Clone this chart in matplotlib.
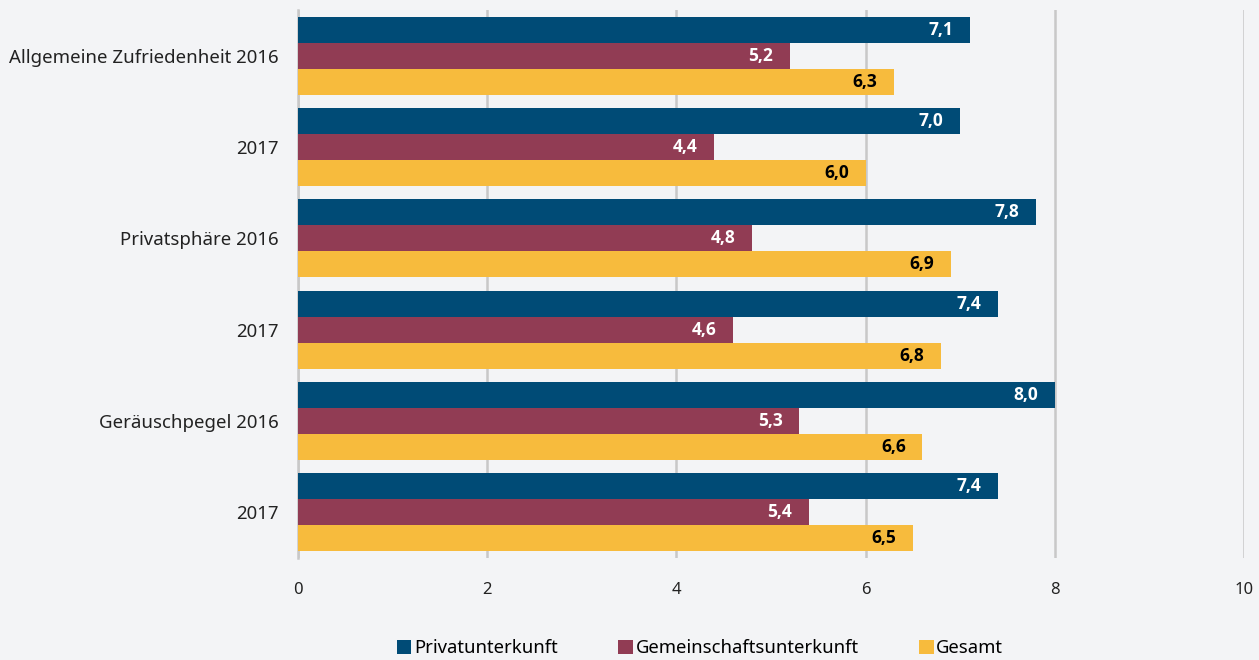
import matplotlib
matplotlib.use("Agg")
import matplotlib.pyplot as plt
import numpy as np

categories = ["Allgemeine Zufriedenheit 2016", "2017", "Privatsphäre 2016", "2017",
              "Geräuschpegel 2016", "2017"]
series_names = ["Privatunterkunft", "Gemeinschaftsunterkunft", "Gesamt"]
privat = [7.1, 7.0, 7.8, 7.4, 8.0, 7.4]
gemeinschaft = [5.2, 4.4, 4.8, 4.6, 5.3, 5.4]
gesamt = [6.3, 6.0, 6.9, 6.8, 6.6, 6.5]
xticks = [0, 2, 4, 6, 8, 10]

colors = ["#004b76", "#913c54", "#f7bb3d"]
text_colors = ["white", "white", "black"]
bg = "#f3f4f6"
font = "Noto Sans"
plt.rcParams["font.family"] = [font, "DejaVu Sans"]

fig = plt.figure(figsize=(12.59, 6.6), dpi=100, facecolor=bg)
ax = fig.add_axes([298/1259, 1-558/660, (1244-298)/1259, 548/660], facecolor=bg)

h = 0.284
y = np.arange(len(categories))
for k, (vals, c, tc, name) in enumerate(zip([privat, gemeinschaft, gesamt], colors, text_colors, series_names)):
    pos = y + (k - 1) * h
    bars = ax.barh(pos, vals, height=h, color=c, label=name, zorder=3)
    for b, v in zip(bars, vals):
        ax.annotate(f"{v:.1f}".replace(".", ","), xy=(v, b.get_y() + h/2),
                    xytext=(-12, 0), textcoords="offset points", ha="right", va="center",
                    color=tc, fontsize=12.5, fontweight="bold",
                    family=["Open Sans", "DejaVu Sans"], zorder=4)

ax.set_ylim(len(categories) - 0.5, -0.5)
ax.set_xlim(0, 10)
ax.set_xticks(xticks)
ax.set_xticklabels([str(t) for t in xticks], fontsize=12, color="#222222")
ax.set_yticks(y)
ax.set_yticklabels(categories, fontsize=13.4, color="#222222")
ax.tick_params(axis="both", length=0)
ax.tick_params(axis="x", pad=17)
ax.tick_params(axis="y", pad=14)
ax.grid(axis="x", color="#c8c8c8", linewidth=1.8, zorder=0)
for s in ["top", "right", "bottom"]:
    ax.spines[s].set_visible(False)
ax.spines["left"].set_color("#c8c8c8")
ax.spines["left"].set_linewidth(1.8)

handles, labels = ax.get_legend_handles_labels()
fig.legend(handles, labels, loc="center", bbox_to_anchor=(700/1259, 1-648/660), ncol=3,
           frameon=False, fontsize=13.3, handlelength=0.8, handleheight=0.8,
           handletextpad=0.15, columnspacing=3.25, borderaxespad=0, borderpad=0)

fig.savefig("out.png", dpi=100, facecolor=bg)
